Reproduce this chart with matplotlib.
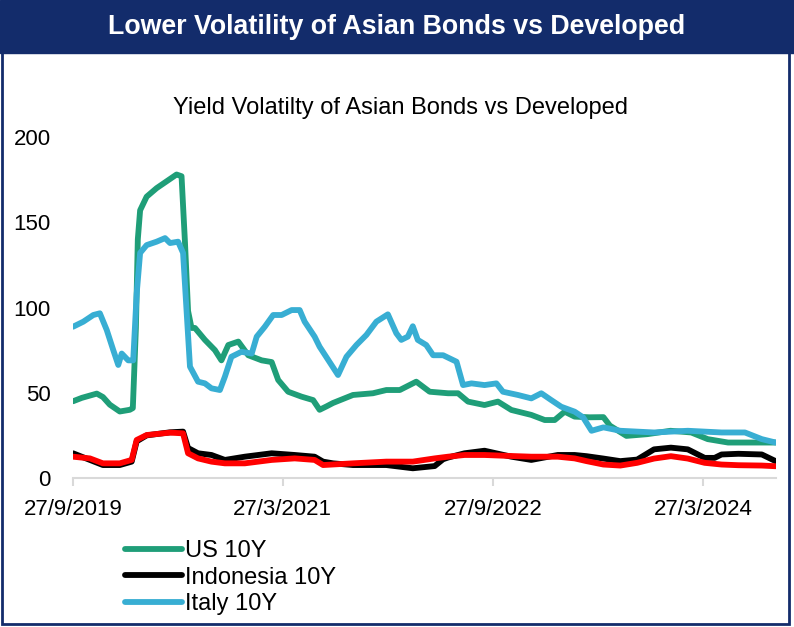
import matplotlib
matplotlib.use("Agg")
import matplotlib.pyplot as plt
import pandas as pd
from matplotlib.patches import Rectangle

plt.rcParams["font.family"] = ["Liberation Sans", "DejaVu Sans"]

title = "Lower Volatility of Asian Bonds vs Developed"
subtitle = "Yield Volatilty of Asian Bonds vs Developed"

tick_dates = ["2019-09-27", "2021-03-27", "2022-09-27", "2024-03-27"]
tick_labels = ["27/9/2019", "27/3/2021", "27/9/2022", "27/3/2024"]

us_dates = ["2019-09-27", "2019-10-20", "2019-11-28", "2019-12-14", "2020-01-01", "2020-01-27",
            "2020-02-22", "2020-03-01", "2020-03-09", "2020-03-14", "2020-03-20", "2020-04-06",
            "2020-05-02", "2020-05-28", "2020-06-23", "2020-07-06", "2020-07-15", "2020-07-23",
            "2020-08-01", "2020-08-10", "2020-09-05", "2020-10-01", "2020-10-18", "2020-11-05",
            "2020-12-01", "2020-12-27", "2021-01-31", "2021-02-26", "2021-03-15", "2021-04-10",
            "2021-05-15", "2021-06-14", "2021-07-01", "2021-07-19", "2021-08-05", "2021-09-26",
            "2021-11-17", "2021-12-22", "2022-01-26", "2022-03-10", "2022-04-14", "2022-06-01",
            "2022-06-27", "2022-07-23", "2022-09-04", "2022-10-09", "2022-11-13", "2023-01-04",
            "2023-02-08", "2023-03-06", "2023-04-01", "2023-04-27", "2023-06-05", "2023-07-11",
            "2023-07-28", "2023-09-09", "2023-11-02", "2024-01-02", "2024-02-25", "2024-04-08",
            "2024-05-31", "2024-08-01", "2024-10-02"]
us_vals = [45, 47, 49.5, 47.5, 43, 39,
           40, 41, 88, 140, 157, 165,
           170, 174, 178, 177, 138, 98,
           88, 88, 81, 75, 69, 78,
           80, 72, 69, 68, 57.5, 50.6,
           47.7, 45.7, 40, 42, 44, 48.7,
           49.7, 51.6, 51.6, 56.5, 50.6, 49.7,
           49.7, 44.8, 42.8, 44.8, 39.9, 37,
           34, 34, 38.9, 36, 35.6, 35.7,
           30.7, 24.7, 25.7, 27.7, 26.7, 22.8,
           20.8, 20.8, 20.8]

idn_dates = ["2019-09-27", "2019-11-10", "2019-12-14", "2020-01-27", "2020-02-27", "2020-03-11",
             "2020-04-06", "2020-06-06", "2020-07-10", "2020-07-23", "2020-08-18", "2020-09-22",
             "2020-10-27", "2020-12-18", "2021-02-26", "2021-04-27", "2021-06-18", "2021-07-10",
             "2021-08-05", "2021-09-26", "2021-12-22", "2022-03-01", "2022-04-27", "2022-05-19",
             "2022-06-01", "2022-07-14", "2022-09-04", "2022-11-13", "2023-01-04", "2023-03-14",
             "2023-04-27", "2023-05-28", "2023-07-11", "2023-08-24", "2023-10-07", "2023-11-20",
             "2024-01-03", "2024-02-16", "2024-03-31", "2024-04-26", "2024-05-14", "2024-06-27",
             "2024-08-27", "2024-10-02"]
idn_vals = [14.5, 10.6, 7.6, 7.6, 9.6, 21.5,
            25, 26.8, 27.2, 17.6, 14.5, 13.5,
            10.6, 12.5, 14.5, 13.5, 12.5, 9.6,
            8.6, 7.6, 7.6, 5.7, 7, 11,
            12, 14.5, 16, 12.5, 10.6, 13.5,
            13.5, 12.8, 11.4, 9.9, 10.8, 16.8,
            17.8, 16.8, 11.8, 11.8, 13.8, 14.2,
            13.8, 9.9]

ita_dates = ["2019-09-27", "2019-10-24", "2019-11-19", "2019-12-06", "2019-12-24", "2020-01-10",
             "2020-01-23", "2020-02-01", "2020-02-18", "2020-03-02", "2020-03-11", "2020-03-20",
             "2020-04-06", "2020-05-02", "2020-05-24", "2020-06-06", "2020-06-27", "2020-07-10",
             "2020-07-19", "2020-07-28", "2020-08-18", "2020-09-05", "2020-09-22", "2020-10-14",
             "2020-10-27", "2020-11-13", "2020-12-09", "2021-01-05", "2021-01-18", "2021-02-08",
             "2021-03-02", "2021-03-24", "2021-04-19", "2021-05-10", "2021-05-23", "2021-06-18",
             "2021-07-01", "2021-08-18", "2021-09-09", "2021-10-05", "2021-10-31", "2021-11-26",
             "2021-12-26", "2022-01-17", "2022-01-30", "2022-02-16", "2022-03-01", "2022-03-14",
             "2022-04-05", "2022-04-23", "2022-05-19", "2022-06-23", "2022-07-10", "2022-08-01",
             "2022-09-04", "2022-10-05", "2022-10-22", "2022-11-30", "2023-01-04", "2023-01-30",
             "2023-02-25", "2023-03-23", "2023-04-27", "2023-05-19", "2023-06-10", "2023-07-11",
             "2023-08-24", "2023-11-20", "2024-02-16", "2024-05-14", "2024-07-14", "2024-08-27",
             "2024-10-02"]
ita_vals = [88.7, 91.7, 95.6, 96.6, 86.8, 75,
            66.3, 73, 69, 69, 108, 132,
            136.6, 138.6, 140.7, 137.8, 138.6, 132,
            98.5, 65.3, 56.5, 55.5, 52.6, 51.6,
            59.4, 71.1, 74, 73, 82.9, 88.7,
            95.6, 95.6, 98.5, 98.5, 91.7, 82.9,
            77, 60.4, 71.1, 78, 83.9, 91.7,
            96, 84.9, 81, 82.9, 89, 81,
            78, 72, 72, 68.2, 54.5, 55.5,
            54.5, 55.5, 50.6, 48.7, 46.7, 49.7,
            45.7, 41.8, 38.9, 35.6, 27.7, 29.7,
            27.7, 26.7, 27.7, 26.7, 26.7, 22.8,
            20.8]

red_dates = ["2019-09-27", "2019-11-10", "2019-12-14", "2020-01-27", "2020-02-27", "2020-03-11",
             "2020-04-06", "2020-06-06", "2020-07-10", "2020-07-23", "2020-08-18", "2020-09-22",
             "2020-10-27", "2020-12-18", "2021-02-26", "2021-04-27", "2021-06-18", "2021-07-10",
             "2021-09-26", "2021-12-22", "2022-03-01", "2022-04-27", "2022-06-01", "2022-07-14",
             "2022-09-04", "2022-11-13", "2023-01-04", "2023-03-14", "2023-04-27", "2023-05-28",
             "2023-07-11", "2023-08-24", "2023-10-07", "2023-11-20", "2024-01-03", "2024-02-16",
             "2024-03-31", "2024-05-14", "2024-06-27", "2024-08-27", "2024-10-02"]
red_vals = [12.5, 11.5, 8.6, 8.6, 10.6, 22.3,
            25.2, 26.6, 26.2, 14.5, 11.5, 9.6,
            8.6, 8.6, 10.6, 11.5, 10.6, 7.6,
            8.6, 9.6, 9.6, 11.5, 12.5, 13.5,
            13.5, 12.9, 12.5, 12.5, 11.5, 9.9,
            7.9, 7.3, 8.9, 11.4, 12.8, 11.4,
            8.9, 7.9, 7.5, 7.3, 6.9]

navy = "#132C6B"
W, H = 794, 627
fig = plt.figure(figsize=(W / 100, H / 100), dpi=100)
ax = fig.add_axes([73 / W, 1 - 478 / H, (776 - 73) / W, (478 - 137) / H])

series = [
    (us_dates, us_vals, "#1F9E78", "US 10Y"),
    (idn_dates, idn_vals, "#000000", "Indonesia 10Y"),
    (ita_dates, ita_vals, "#38AED3", "Italy 10Y"),
    (red_dates, red_vals, "#FF0000", "_nolegend_"),
]
for d, v, c, lab in series:
    ax.plot(pd.to_datetime(d), v, color=c, lw=4.2, label=lab,
            solid_capstyle="round", solid_joinstyle="round")

ax.set_ylim(0, 200)
ax.set_yticks([0, 50, 100, 150, 200])
ax.set_xlim(pd.Timestamp("2019-09-27"), pd.Timestamp("2024-10-03"))
ax.set_xticks(pd.to_datetime(tick_dates))
ax.set_xticklabels(tick_labels)

for s in ["top", "right", "left"]:
    ax.spines[s].set_visible(False)
ax.spines["bottom"].set_color("#D9D9D9")
ax.spines["bottom"].set_linewidth(1.5)
ax.tick_params(axis="y", length=0, pad=16, labelsize=16)
ax.tick_params(axis="x", length=6, width=1.5, color="#D9D9D9", pad=9, labelsize=16)

fig.text(0.505, 1 - 108 / H, subtitle, ha="center", va="center", fontsize=17)

# header bar and frame
fig.patches.append(Rectangle((0, 1 - 53 / H), 1, 53 / H, transform=fig.transFigure,
                             color=navy, zorder=0))
fig.text(0.5, 1 - 27 / H, title, ha="center", va="center", color="white",
         fontsize=19.3, fontweight="bold")
fig.patches.append(Rectangle((2 / W, 3 / H), 787 / W, (H - 3) / H, transform=fig.transFigure,
                             fill=False, edgecolor=navy, lw=2))

handles, labels = ax.get_legend_handles_labels()
fig.legend(handles, labels, loc="upper left", bbox_to_anchor=(125 / W, 1 - 540 / H),
           frameon=False, fontsize=17, handlelength=2.4, handletextpad=0.15,
           labelspacing=0.2, borderpad=0, borderaxespad=0)

fig.savefig("out.png", dpi=100)
